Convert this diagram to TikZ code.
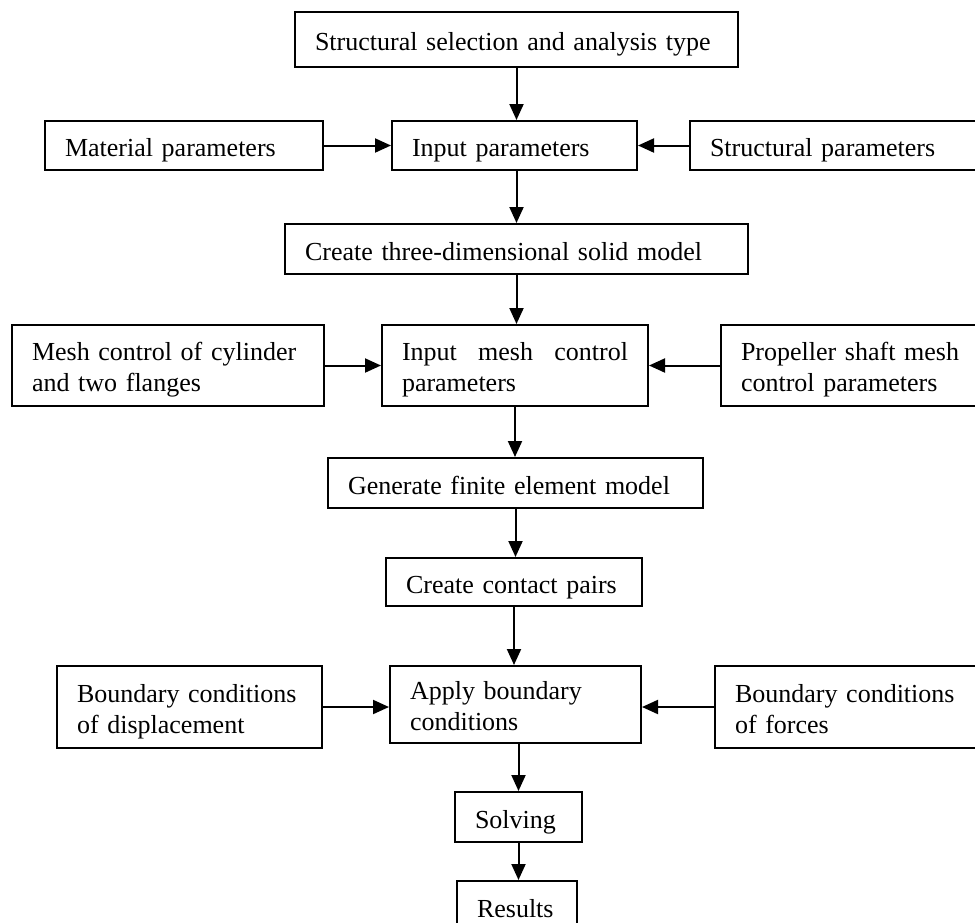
\documentclass[tikz,border=0pt]{standalone}
\usepackage{fontspec}
\setmainfont{Liberation Serif}
\usetikzlibrary{arrows.meta}
\begin{document}
\begin{tikzpicture}[x=1pt,y=-1pt,
  box/.style={draw, line width=2pt, inner xsep=20pt, inner ysep=0pt, align=left,
    font=\fontsize{26}{31}\selectfont},
  one/.style={box, text height=22pt, text depth=0pt},
  two/.style={box, text height=18pt, text depth=28pt},
  arr/.style={line width=2pt, -{Triangle[length=16pt,width=14pt]}}]
\useasboundingbox (0,0) rectangle (975,922);
\clip (0,0) rectangle (975,922);
% row 1
\node[one, text width=403pt, minimum height=55pt] (s1) at (516.5,39.5) {\mbox{Structural selection and analysis type}};
% row 2
\node[one, text width=238pt, minimum height=49pt] (mat) at (184,145.5) {\mbox{Material parameters}};
\node[one, text width=205pt, minimum height=49pt] (ip) at (514.5,145.5) {\mbox{Input parameters}};
\node[one, text width=280pt, minimum height=49pt] (sp) at (850,145.5) {\mbox{Structural parameters}};
% row 3
\node[one, text width=423pt, minimum height=50pt] (c3) at (516.5,249) {\mbox{Create three-dimensional solid model}};
% row 4
\node[two, text width=272pt, minimum height=81pt] (mc) at (168,365.5) {\mbox{Mesh control of cylinder}\\\mbox{and two flanges}};
\node[two, text width=226pt, minimum height=81pt] (im) at (515,365.5) {Input\hfill mesh\hfill control\\\mbox{parameters}};
\node[two, text width=260pt, minimum height=81pt] (pp) at (871,365.5) {\mbox{Propeller shaft mesh}\\\mbox{control parameters}};
% row 5
\node[one, text width=335pt, minimum height=50pt] (gf) at (515.5,483) {\mbox{Generate finite element model}};
% row 6
\node[one, text width=216pt, minimum height=48pt] (cc) at (514,582) {\mbox{Create contact pairs}};
% row 7
\node[two, text width=225pt, minimum height=82pt] (bd) at (189.5,707) {\mbox{Boundary conditions}\\\mbox{of displacement}};
\node[two, text width=211pt, minimum height=77pt] (ab) at (515.5,704.5) {\mbox{Apply boundary}\\\mbox{conditions}};
\node[two, text width=260pt, minimum height=82pt] (bf) at (865,707) {\mbox{Boundary conditions}\\\mbox{of forces}};
% row 8, 9
\node[one, text width=87pt, minimum height=50pt] (so) at (518.5,817) {\mbox{Solving}};
\node[one, text width=80pt, minimum height=50pt] (re) at (517,906) {\mbox{Results}};
% connectors
\draw[arr] (s1.south) -- (s1.south |- ip.north);
\draw[arr] (mat.east) -- (ip.west);
\draw[arr] (sp.west) -- (ip.east);
\draw[arr] (c3.north |- ip.south) -- (c3.north);
\draw[arr] (c3.south) -- (c3.south |- im.north);
\draw[arr] (mc.east) -- (mc.east -| im.west);
\draw[arr] (pp.west) -- (pp.west -| im.east);
\draw[arr] (im.south) -- (im.south |- gf.north);
\draw[arr] (gf.south) -- (gf.south |- cc.north);
\draw[arr] (cc.south) -- (cc.south |- ab.north);
\draw[arr] (bd.east) -- (bd.east -| ab.west);
\draw[arr] (bf.west) -- (bf.west -| ab.east);
\draw[arr] (so.north |- ab.south) -- (so.north);
\draw[arr] (so.south) -- (so.south |- re.north);
\end{tikzpicture}
\end{document}
